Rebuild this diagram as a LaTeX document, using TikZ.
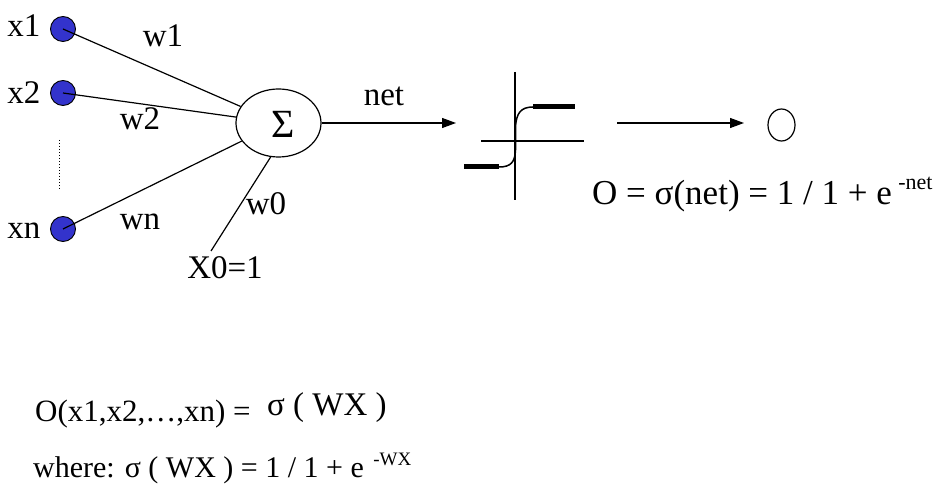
\documentclass[tikz,border=0pt]{standalone}
\usepackage{fontspec}
\setmainfont{Liberation Serif}
\usetikzlibrary{arrows.meta,shapes.geometric}
\definecolor{nodeblue}{RGB}{51,51,204}
\begin{document}
\begin{tikzpicture}[x=1pt,y=-1pt,
  inp/.style={circle,draw,fill=nodeblue,minimum size=25pt,inner sep=0pt,line width=0.9pt},
  lab/.style={font=\fontsize{33}{38}\selectfont,inner sep=0pt,anchor=base},
  labw/.style={font=\fontsize{33}{38}\selectfont,inner sep=0pt,anchor=base west},
  supr/.style={font=\fontsize{21}{24}\selectfont,inner sep=0pt,anchor=base west},
  wire/.style={line width=1.2pt},
  arr/.style={line width=1.2pt,-{Triangle[length=14pt,width=10pt]}},
  bar/.style={line width=5pt}]
\useasboundingbox (0,0) rectangle (943,489);
% inputs
\node[inp] (x1) at (63,29) {};
\node[inp] (x2) at (63,93) {};
\node[inp] (xn) at (63,229) {};
\node[lab] (lx1) at (24,37) {x1};
\node[lab] (lx2) at (24,104) {x2};
\node[lab] (lxn) at (24,239) {xn};
\draw[dotted,line width=1pt] (59,140) -- (59,190);
% summation
\node[draw,ellipse,minimum width=85pt,minimum height=68pt,line width=1.2pt] (sum) at (278.5,123) {};
\node[lab,font=\fontsize{40}{44}\selectfont] (sig) at (283,138) {Σ};
\coordinate (c0) at (211,251);
\draw[wire] (x1.center) -- (sum);
\draw[wire] (x2.center) -- (sum);
\draw[wire] (xn.center) -- (sum);
\draw[wire] (c0) -- (sum.257);
\node[lab] (w1) at (163,47) {w1};
\node[lab] (w2) at (140,130) {w2};
\node[lab] (wn) at (140,230) {wn};
\node[lab] (w0) at (266,215) {w0};
\node[lab] (x0) at (225,279) {X0=1};
% net arrow
\coordinate (netend) at (456,123);
\draw[arr] (sum.east) -- (netend);
\node[lab] (net) at (384,106) {net};
% sigmoid
\draw[line width=1.5pt] (515,72) -- (515,200);
\draw[line width=1.5pt] (481,141) -- (584,141);
\draw[line width=1.5pt] (499,167) .. controls (511,167) and (515,162) .. (515.5,150) -- (515.5,128) .. controls (516,113) and (521,107) .. (533,107);
\draw[bar] (533,107) -- (575,107);
\draw[bar] (464,167) -- (499,167);
% output
\coordinate (a2s) at (617,123);
\coordinate (a2e) at (744,123);
\draw[arr] (a2s) -- (a2e);
\node[draw,ellipse,minimum width=27pt,minimum height=32pt,inner sep=0pt,line width=1.2pt] (out) at (781.5,125) {};
\node[labw,font=\fontsize{35}{40}\selectfont] (f1) at (592,205) {O = σ(net) = 1 / 1 + e};
\node[supr,font=\fontsize{22}{25}\selectfont] (f1s) at (f1.base east) [yshift=15pt,xshift=6pt] {-net};
% bottom formulas
\node[labw,font=\fontsize{31}{36}\selectfont] (f2) at (35,421) {O(x1,x2,…,xn) =};
\node[labw] (f3) at (267,415) {σ ( WX )};
\node[labw,font=\fontsize{30}{36}\selectfont] (f4) at (33,477) {where: σ ( WX ) = 1 / 1 + e};
\node[supr,font=\fontsize{19}{22}\selectfont] (f4s) at (f4.base east) [yshift=12pt,xshift=9pt] {-WX};
\end{tikzpicture}
\end{document}
